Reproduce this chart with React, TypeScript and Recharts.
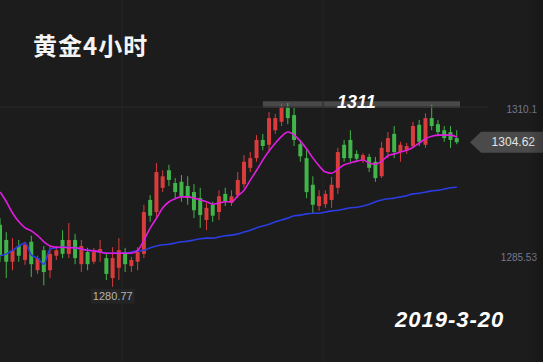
import React from 'react';
import { ComposedChart, Bar, Line, XAxis, YAxis, ReferenceArea, ReferenceLine, ReferenceDot } from 'recharts';

// 4h candles (red = up, green = down)
const opens = [
  1291.0, 1288.5, 1284.9, 1287.5, 1285.2, 1288.2, 1283.5, 1286.8, 1283.5, 1285.9,
  1288.5, 1286.2, 1288.5, 1284.5, 1286.5, 1284.9, 1286.5, 1285.5, 1282.2, 1283.9,
  1286.5, 1284.2, 1284.9, 1286.2, 1295.1, 1293.1, 1297.1, 1300.0, 1297.9, 1298.1,
  1297.4, 1296.4, 1295.4, 1291.8, 1294.3, 1293.1, 1296.1, 1294.6, 1295.9, 1297.7,
  1300.4, 1302.0, 1305.0, 1304.2, 1306.6, 1308.0, 1310.3, 1309.1, 1304.3, 1302.0,
  1297.6, 1294.1, 1294.4, 1295.1, 1297.1, 1304.2, 1305.0, 1302.7, 1301.7, 1302.2,
  1301.4, 1299.0, 1303.0, 1306.0, 1303.0, 1303.3, 1304.0, 1307.5, 1304.2, 1308.6,
  1307.6, 1306.6, 1306.3, 1305.3,
];
const highs = [
  1292.1, 1289.8, 1288.8, 1288.5, 1288.2, 1289.2, 1285.9, 1287.5, 1287.5, 1287.5,
  1290.1, 1291.3, 1289.5, 1288.5, 1287.2, 1287.2, 1288.5, 1286.2, 1287.3, 1288.8,
  1287.2, 1285.7, 1287.3, 1294.3, 1295.9, 1301.2, 1300.0, 1300.9, 1298.7, 1299.2,
  1299.0, 1297.7, 1297.1, 1294.6, 1294.8, 1296.7, 1297.1, 1296.7, 1299.7, 1302.5,
  1303.0, 1305.8, 1306.0, 1309.6, 1309.3, 1311.0, 1311.1, 1310.3, 1305.0, 1303.3,
  1299.0, 1296.7, 1296.7, 1298.9, 1303.7, 1305.0, 1306.6, 1303.3, 1302.8, 1302.7,
  1302.2, 1304.7, 1306.3, 1307.3, 1304.7, 1304.5, 1308.0, 1308.3, 1309.4, 1310.8,
  1308.3, 1307.3, 1307.3, 1306.6,
];
const lows = [
  1284.9, 1282.2, 1283.5, 1284.9, 1284.4, 1282.4, 1282.9, 1281.0, 1282.2, 1285.2,
  1285.5, 1285.5, 1284.5, 1283.2, 1283.5, 1284.5, 1284.9, 1281.9, 1280.77, 1281.9,
  1283.2, 1283.2, 1283.5, 1285.5, 1291.5, 1292.1, 1296.4, 1297.4, 1295.4, 1294.8,
  1294.3, 1292.1, 1290.5, 1290.1, 1291.5, 1291.8, 1294.1, 1294.1, 1295.4, 1297.1,
  1299.7, 1301.4, 1303.3, 1303.3, 1306.0, 1307.3, 1307.6, 1304.0, 1301.4, 1295.4,
  1292.8, 1293.3, 1293.8, 1293.8, 1296.1, 1301.4, 1301.4, 1301.4, 1301.2, 1299.7,
  1298.1, 1298.7, 1302.0, 1302.0, 1301.4, 1302.7, 1303.7, 1304.0, 1303.7, 1306.6,
  1305.6, 1304.7, 1303.7, 1304.3,
];
const closes = [
  1286.0, 1284.9, 1286.8, 1285.9, 1287.7, 1284.5, 1285.5, 1283.2, 1286.2, 1286.8,
  1286.2, 1288.5, 1285.5, 1287.5, 1284.5, 1286.5, 1287.0, 1282.9, 1285.5, 1286.8,
  1284.5, 1285.2, 1286.5, 1293.1, 1292.5, 1299.7, 1299.0, 1298.4, 1296.4, 1295.7,
  1295.4, 1293.4, 1292.6, 1293.8, 1292.5, 1295.7, 1294.8, 1295.7, 1298.4, 1301.4,
  1302.0, 1305.0, 1304.0, 1308.6, 1308.6, 1310.4, 1308.6, 1305.0, 1302.3, 1296.4,
  1294.3, 1295.7, 1296.1, 1297.6, 1303.0, 1302.0, 1302.0, 1301.9, 1302.5, 1300.4,
  1298.7, 1303.7, 1305.3, 1303.0, 1304.2, 1304.0, 1307.3, 1304.7, 1308.6, 1307.3,
  1306.3, 1305.3, 1305.0, 1304.62,
];
// magenta (fast) and blue (slow) averages as drawn
const maFast = [
  1296.4, 1294.8, 1292.9, 1291.5, 1290.5, 1290.0, 1289.2, 1288.2, 1287.5, 1287.3,
  1287.3, 1287.2, 1287.2, 1287.0, 1286.8, 1286.7, 1286.5, 1286.3, 1286.3, 1286.3,
  1286.3, 1286.3, 1286.8, 1288.5, 1290.5, 1292.1, 1293.8, 1294.8, 1295.3, 1295.6,
  1295.6, 1295.4, 1295.1, 1294.8, 1294.4, 1294.6, 1294.8, 1294.8, 1295.8, 1296.7,
  1298.4, 1300.0, 1301.7, 1303.2, 1304.5, 1305.6, 1306.3, 1305.8, 1304.8, 1303.5,
  1302.0, 1300.7, 1299.7, 1299.5, 1300.2, 1300.9, 1301.2, 1301.5, 1301.7, 1301.2,
  1301.0, 1301.5, 1302.4, 1302.7, 1303.0, 1303.3, 1303.8, 1304.5, 1305.2, 1305.6,
  1305.8, 1305.8, 1305.8, 1305.5,
];
const maSlow = [
  1285.9, 1286.2, 1286.8, 1287.5, 1288.0, 1286.0, 1285.5, 1284.5, 1287.0, 1287.2,
  1287.3, 1287.3, 1287.2, 1287.0, 1286.8, 1286.7, 1286.5, 1286.3, 1286.3, 1286.3,
  1286.3, 1286.5, 1286.7, 1286.8, 1287.2, 1287.5, 1287.7, 1287.8, 1288.0, 1288.2,
  1288.3, 1288.5, 1288.7, 1288.8, 1288.8, 1289.0, 1289.2, 1289.3, 1289.5, 1289.8,
  1290.1, 1290.5, 1290.8, 1291.1, 1291.5, 1291.8, 1292.1, 1292.5, 1292.6, 1292.8,
  1292.9, 1292.9, 1293.1, 1293.3, 1293.4, 1293.6, 1293.8, 1293.9, 1294.1, 1294.4,
  1294.8, 1295.1, 1295.3, 1295.4, 1295.6, 1295.8, 1296.1, 1296.2, 1296.4, 1296.6,
  1296.7, 1296.9, 1297.1, 1297.2,
];

const priceTicks = [1285.53, 1304.62, 1310.1];
const lastPrice = 1304.62;
const lowPrice = 1280.77;
const lowIndex = 18;

const RED = '#d83c3c';
const GREEN = '#41b54a';
const BG = '#1c1c1c';

const rows = closes.map((c, i) => ({
  i,
  open: opens[i],
  high: highs[i],
  low: lows[i],
  close: c,
  maFast: maFast[i],
  maSlow: maSlow[i],
}));

const Candle = (props: any) => {
  const { x, y, width, height, payload } = props;
  const { open, close, high, low } = payload;
  const color = close >= open ? RED : GREEN;
  const top = Math.min(y, y + height);
  const h = Math.abs(height);
  const k = h / (high - low || 1);
  const cx = x + width / 2;
  const bTop = top + (high - Math.max(open, close)) * k;
  const bBot = top + (high - Math.min(open, close)) * k;
  return (
    <g>
      <line x1={cx} x2={cx} y1={top} y2={top + h} stroke={color} strokeWidth={1} />
      <rect x={cx - 2} y={bTop} width={4} height={Math.max(1, bBot - bTop)} fill={color} />
    </g>
  );
};

const PriceTick = (props: any) => {
  const { y, payload } = props;
  const v = payload.value;
  if (v === lastPrice) {
    return (
      <g>
        <polygon points={`473,${y} 484,${y - 10.5} 546,${y - 10.5} 546,${y + 10.5} 484,${y + 10.5}`} fill="#4a4a4a" />
        <text x={538} y={y + 4} textAnchor="end" fontSize={12} fill="#e4e4e4">{v.toFixed(2)}</text>
      </g>
    );
  }
  return (
    <g>
      {v === 1310.1 && <line x1={0} x2={491} y1={y - 2} y2={y - 2} stroke="#2b2b2b" />}
      <text x={540} y={y + 3.5} textAnchor="end" fontSize={10} fill="#777790">{String(v)}</text>
    </g>
  );
};

const LowMark = (props: any) => {
  const { cx, cy } = props;
  return (
    <g>
      <rect x={cx - 22} y={cy + 2} width={44} height={15} fill="#242424" />
      <text x={cx} y={cy + 13} textAnchor="middle" fontSize={11} fill="#b4b4b4">{lowPrice.toFixed(2)}</text>
    </g>
  );
};

export default function App() {
  return (
    <div style={{ position: 'absolute', left: 0, top: 0, width: 543, height: 362, overflow: 'hidden', background: BG, fontFamily: '"Liberation Sans", Arial, sans-serif' }}>
      <div style={{ position: 'absolute', left: -3, top: 0 }}>
        <ComposedChart width={546} height={362} data={rows} margin={{ top: 0, right: 0, bottom: 0, left: 0 }} barCategoryGap={0}>
          <XAxis dataKey="i" type="number" domain={[-0.5, 73.5]} hide />
          <YAxis
            orientation="right"
            width={83}
            domain={[1268.36, 1328.09]}
            allowDataOverflow
            ticks={priceTicks}
            tick={<PriceTick />}
            axisLine={false}
            tickLine={false}
            interval={0}
          />
          <ReferenceLine x={19.5} stroke="#272727" />
          <ReferenceLine x={51.6} stroke="#272727" />
          <ReferenceArea x1={42} x2={73.5} y1={1310.3} y2={1311.4} fill="#5c5c5c" fillOpacity={0.7} stroke="none" />
          <Bar dataKey={(d: any) => [d.low, d.high]} shape={<Candle />} isAnimationActive={false} />
          <Line dataKey="maSlow" type="monotone" stroke="#2b3de0" strokeWidth={1.6} dot={false} activeDot={false} isAnimationActive={false} />
          <Line dataKey="maFast" type="monotone" stroke="#e21de2" strokeWidth={1.6} dot={false} activeDot={false} isAnimationActive={false} />
          <ReferenceDot x={lowIndex} y={lowPrice} r={2} shape={<LowMark />} />
        </ComposedChart>
      </div>
      <div style={{ position: 'absolute', left: 528, top: 0, width: 15, height: 362, background: 'linear-gradient(to right, rgba(0,0,0,0), rgba(0,0,0,0.2))' }} />
      <div style={{ position: 'absolute', left: 33, top: 33, fontFamily: '"Noto Sans CJK SC", sans-serif', fontWeight: 700, fontSize: 24, lineHeight: '24px', letterSpacing: 1, color: '#f4f4f4' }}>黄金4小时</div>
      <div style={{ position: 'absolute', left: 337, top: 93, fontStyle: 'italic', fontWeight: 700, fontSize: 18, lineHeight: '18px', color: '#ffffff' }}>1311</div>
      <div style={{ position: 'absolute', left: 395, top: 309, fontStyle: 'italic', fontWeight: 700, fontSize: 22, lineHeight: '22px', letterSpacing: 1, color: '#ffffff' }}>2019-3-20</div>
    </div>
  );
}
